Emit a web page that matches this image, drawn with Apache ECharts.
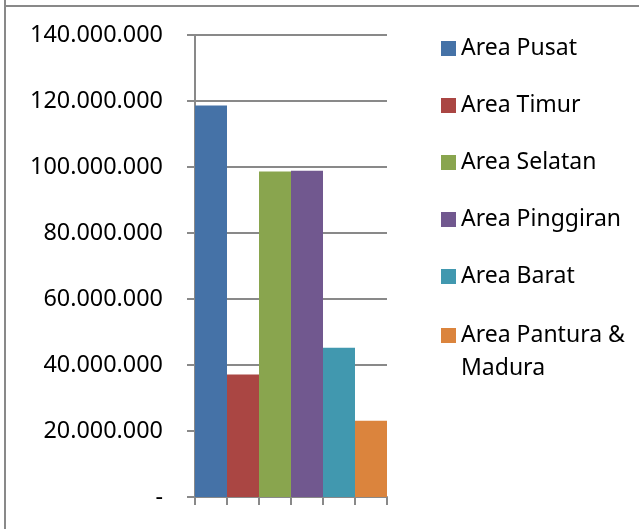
<!DOCTYPE html>
<html>
<head>
<meta charset="utf-8">
<script src="https://cdn.jsdelivr.net/npm/echarts@6/dist/echarts.min.js"></script>
<style>
  html, body { margin: 0; padding: 0; background: #fff; }
  #chart { width: 639px; height: 529px; }
</style>
</head>
<body>
<div id="chart"></div>
<script>
// Regional totals
const areaNames = ['Area Pusat', 'Area Timur', 'Area Selatan', 'Area Pinggiran', 'Area Barat', 'Area Pantura & Madura'];
const areaValues = [118600000, 37100000, 98600000, 98900000, 45200000, 23100000];
const areaColors = ['#4572A7', '#AA4643', '#89A54E', '#71588F', '#4198AF', '#DB843D'];
const yTicks = [0, 20000000, 40000000, 60000000, 80000000, 100000000, 120000000, 140000000];

const fontFamily = '"Noto Sans", "Open Sans", sans-serif';
const gray = '#898989';

function formatThousands(v) {
  if (v === 0) return '-';
  return String(v).replace(/\B(?=(\d{3})+(?!\d))/g, '.');
}

// One series per area, each filling its own category slot
const series = areaNames.map((name, i) => ({
  name: name,
  type: 'bar',
  stack: 'all',
  barWidth: '100%',
  itemStyle: { color: areaColors[i] },
  data: areaNames.map((_, j) => (j === i ? areaValues[i] : null))
}));

const legendCommon = {
  orient: 'vertical',
  left: 436,
  itemWidth: 15,
  itemHeight: 15,
  itemGap: 24,
  icon: 'rect',
  textStyle: { fontSize: 23, fontFamily: fontFamily, color: '#000', lineHeight: 33 }
};

const chart = echarts.init(document.getElementById('chart'), null, { renderer: 'canvas' });
chart.setOption({
  animation: false,
  backgroundColor: '#ffffff',
  grid: { left: 195, right: 252, top: 35, bottom: 32, containLabel: false },
  xAxis: {
    type: 'category',
    data: areaNames.map(() => ''),
    axisLine: { show: true, lineStyle: { color: gray, width: 2 } },
    axisTick: { show: true, length: 8, lineStyle: { color: gray, width: 2 }, alignWithLabel: false },
    axisLabel: { show: false },
    splitLine: { show: false }
  },
  yAxis: {
    type: 'value',
    min: yTicks[0],
    max: yTicks[yTicks.length - 1],
    interval: yTicks[1] - yTicks[0],
    axisLine: { show: true, lineStyle: { color: gray, width: 2 } },
    axisTick: { show: true, length: 8, lineStyle: { color: gray, width: 2 } },
    axisLabel: {
      margin: 32,
      color: '#000',
      fontSize: 23.4,
      fontFamily: fontFamily,
      formatter: formatThousands
    },
    splitLine: { show: true, lineStyle: { color: gray, width: 2 } }
  },
  legend: [
    Object.assign({}, legendCommon, {
      top: 27,
      data: areaNames.slice(0, 5)
    }),
    // the long name wraps; its first line stays level with the swatch
    Object.assign({}, legendCommon, {
      top: 281,
      formatter: function () { return '\nArea Pantura &\nMadura'; },
      data: areaNames.slice(5)
    })
  ],
  graphic: [
    { type: 'line', shape: { x1: 5, y1: 0, x2: 5, y2: 529 }, style: { stroke: gray, lineWidth: 2 } },
    { type: 'line', shape: { x1: 5, y1: 6, x2: 639, y2: 6 }, style: { stroke: gray, lineWidth: 2 } }
  ],
  series: series
});
</script>
</body>
</html>
